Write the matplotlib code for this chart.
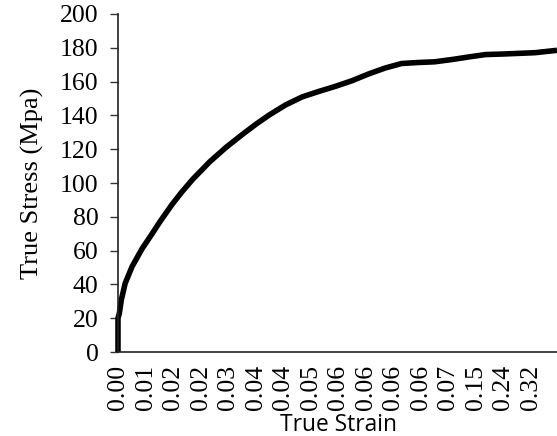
import matplotlib
matplotlib.use("Agg")
import matplotlib.pyplot as plt

# category positions (in units of tick-label spacing) and true stress values
position = [0.0, 0.0, 0.05, 0.12, 0.26, 0.51, 0.87, 1.22, 1.52, 1.95, 2.31, 2.72, 3.33,
            3.94, 4.54, 5.03, 5.5, 6.1, 6.7, 7.3, 7.9, 8.5, 9.1, 9.7, 10.3, 10.9, 11.5,
            12.15, 12.75, 13.35, 13.95, 14.55, 15.15, 15.83, 15.95]
stress = [0, 20, 23, 30.8, 40.6, 50.5, 61, 69.5, 77, 87, 94.5, 102.3, 112.5,
          121.3, 129, 135, 140.3, 146.3, 151, 154.2, 157.2, 160.5, 164.5, 168, 170.7,
          171.3, 171.7, 173.1, 174.6, 176, 176.3, 176.7, 177.1, 178.3, 178.5]

strain_labels = ["0.00", "0.01", "0.02", "0.02", "0.03", "0.04", "0.04", "0.05",
                 "0.06", "0.06", "0.06", "0.06", "0.07", "0.15", "0.24", "0.32"]
y_ticks = [0, 20, 40, 60, 80, 100, 120, 140, 160, 180, 200]

fig = plt.figure(figsize=(5.57, 4.36), dpi=100)
ax = fig.add_axes([118/557, 1-352/436, 1-118/557, (352-14)/436])

ax.plot(position, stress, color="black", linewidth=4.0, solid_capstyle="butt",
        solid_joinstyle="round", clip_on=False)

ax.set_xlim(0, 15.95)
ax.set_ylim(0, 200)
ax.set_yticks(y_ticks)
ax.set_yticklabels([str(v) for v in y_ticks], fontfamily="Liberation Serif", fontsize=18.5)
ax.set_xticks(range(len(strain_labels)))
ax.set_xticklabels(strain_labels, rotation=90, fontfamily="Liberation Serif", fontsize=18.5)
ax.tick_params(axis="x", length=0, pad=9)
ax.tick_params(axis="y", length=6, width=1, direction="out", pad=8, color="#333333")

for s in ["top", "right"]:
    ax.spines[s].set_visible(False)
for s in ["left", "bottom"]:
    ax.spines[s].set_linewidth(1.2)
    ax.spines[s].set_color("#222222")

ax.set_ylabel("True Stress (Mpa)", fontfamily="Liberation Serif", fontsize=19, va="center")
ax.yaxis.set_label_coords(-0.196, 0.5)
ax.set_xlabel("True Strain", fontfamily="Open Sans", fontsize=16.4, va="top")
ax.xaxis.set_label_coords(0.502, -0.18)

fig.savefig("out.png", dpi=100)
